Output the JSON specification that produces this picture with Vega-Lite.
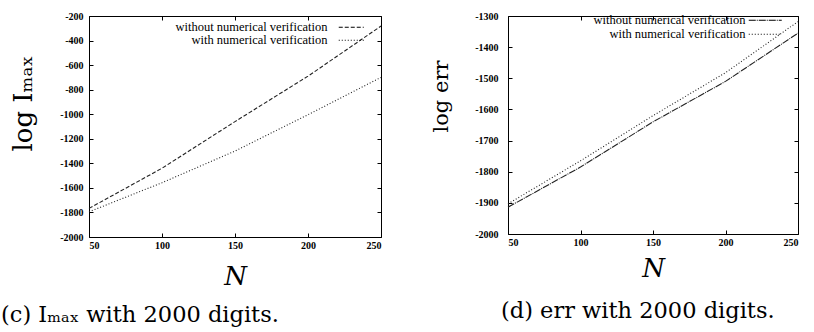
{
  "$schema": "https://vega.github.io/schema/vega-lite/v6.json",
  "padding": {"left": 0, "top": 10, "right": 5, "bottom": 0},
  "background": "white",
  "spacing": 46,
  "resolve": {"scale": {"strokeDash": "independent"}, "legend": {"strokeDash": "independent"}},
  "hconcat": [
    {
      "width": 292,
      "height": 221,
      "title": {"text": "(c) Iₘₐₓ with 2000 digits.", "orient": "bottom", "anchor": "start", "frame": "group", "dx": -88, "offset": 15, "font": "DejaVu Serif", "fontSize": 22.5, "fontWeight": "normal", "color": "#000"},
      "data": {"values": [
        {"N": 50, "v": -1767, "s": "without numerical verification"},
        {"N": 100, "v": -1440, "s": "without numerical verification"},
        {"N": 150, "v": -1060, "s": "without numerical verification"},
        {"N": 200, "v": -690, "s": "without numerical verification"},
        {"N": 250, "v": -282, "s": "without numerical verification"},
        {"N": 50, "v": -1795, "s": "with numerical verification"},
        {"N": 100, "v": -1558, "s": "with numerical verification"},
        {"N": 150, "v": -1300, "s": "with numerical verification"},
        {"N": 200, "v": -1004, "s": "with numerical verification"},
        {"N": 250, "v": -700, "s": "with numerical verification"}
      ]},
      "layer": [
        {
          "mark": {"type": "line", "color": "#222", "strokeWidth": 1.1},
          "encoding": {
            "x": {"field": "N", "type": "quantitative", "scale": {"domain": [50, 250], "nice": false},
                  "axis": {"values": [50, 100, 150, 200, 250], "title": "N", "titleFont": "DejaVu Serif", "titleFontStyle": "italic", "titleFontSize": 26, "titlePadding": 13}},
            "y": {"field": "v", "type": "quantitative", "scale": {"domain": [-2000, -200], "nice": false},
                  "axis": {"values": [-2000, -1800, -1600, -1400, -1200, -1000, -800, -600, -400, -200], "title": "log Iₘₐₓ", "titleFont": "DejaVu Serif", "titleFontSize": 26, "titleY": 87, "titlePadding": 23, "labelPadding": 10}},
            "strokeDash": {"field": "s", "type": "nominal",
                  "scale": {"domain": ["without numerical verification", "with numerical verification"], "range": [[4, 2], [1, 2]]},
                  "legend": {"title": null, "orient": "none", "legendX": 256, "legendY": 5, "symbolType": "M-2.5,0H2.5", "symbolSize": 100, "labelOffset": -30, "rowPadding": -2}}
          }
        },
        {
          "mark": {"type": "line", "opacity": 0},
          "encoding": {
            "x": {"field": "N", "type": "quantitative", "axis": {"orient": "top", "labels": false, "title": null, "values": [50, 100, 150, 200, 250]}},
            "y": {"field": "v", "type": "quantitative", "axis": {"orient": "right", "labels": false, "title": null, "values": [-2000, -1800, -1600, -1400, -1200, -1000, -800, -600, -400, -200]}}
          }
        }
      ],
      "resolve": {"axis": {"x": "independent", "y": "independent"}}
    },
    {
      "width": 290,
      "height": 218,
      "title": {"text": "(d) err with 2000 digits.", "orient": "bottom", "anchor": "start", "frame": "group", "dx": -7, "offset": 19, "font": "DejaVu Serif", "fontSize": 22.5, "fontWeight": "normal", "color": "#000"},
      "data": {"values": [
        {"N": 50, "v": -1914, "s": "without numerical verification"},
        {"N": 100, "v": -1785, "s": "without numerical verification"},
        {"N": 150, "v": -1640, "s": "without numerical verification"},
        {"N": 200, "v": -1510, "s": "without numerical verification"},
        {"N": 250, "v": -1355, "s": "without numerical verification"},
        {"N": 50, "v": -1903, "s": "with numerical verification"},
        {"N": 100, "v": -1765, "s": "with numerical verification"},
        {"N": 150, "v": -1620, "s": "with numerical verification"},
        {"N": 200, "v": -1482, "s": "with numerical verification"},
        {"N": 250, "v": -1318, "s": "with numerical verification"}
      ]},
      "layer": [
        {
          "mark": {"type": "line", "color": "#222", "strokeWidth": 1.1},
          "encoding": {
            "x": {"field": "N", "type": "quantitative", "scale": {"domain": [50, 250], "nice": false},
                  "axis": {"values": [50, 100, 150, 200, 250], "title": "N", "titleFont": "DejaVu Serif", "titleFontStyle": "italic", "titleFontSize": 26, "titlePadding": 8}},
            "y": {"field": "v", "type": "quantitative", "scale": {"domain": [-2000, -1300], "nice": false},
                  "axis": {"values": [-2000, -1900, -1800, -1700, -1600, -1500, -1400, -1300], "title": "log err", "titleFont": "DejaVu Serif", "titleFontSize": 21, "titleY": 80, "titlePadding": 23, "labelPadding": 14}},
            "strokeDash": {"field": "s", "type": "nominal",
                  "scale": {"domain": ["without numerical verification", "with numerical verification"], "range": [[7, 1, 1, 1], [1, 2]]},
                  "legend": {"title": null, "orient": "none", "legendX": 251, "legendY": -2, "symbolType": "M-3.3,0H3.3", "symbolSize": 100, "labelOffset": -26}}
          }
        },
        {
          "mark": {"type": "line", "opacity": 0},
          "encoding": {
            "x": {"field": "N", "type": "quantitative", "axis": {"orient": "top", "labels": false, "title": null, "values": [50, 100, 150, 200, 250]}},
            "y": {"field": "v", "type": "quantitative", "axis": {"orient": "right", "labels": false, "title": null, "values": [-2000, -1900, -1800, -1700, -1600, -1500, -1400, -1300]}}
          }
        }
      ],
      "resolve": {"axis": {"x": "independent", "y": "independent"}}
    }
  ],
  "config": {
    "view": {"stroke": "#000", "strokeWidth": 1},
    "axis": {"labelFont": "Liberation Serif", "labelFontSize": 10, "labelFontWeight": "bold", "labelColor": "#000", "tickColor": "#000", "tickSize": -4, "labelPadding": 7, "domain": false, "grid": false, "titleColor": "#000", "titleFontWeight": "normal", "labelExpr": "'' + datum.value"},
    "legend": {"symbolStrokeColor": "#000", "symbolStrokeWidth": 1, "labelFont": "Liberation Serif", "labelFontSize": 12.5, "labelColor": "#000", "labelAlign": "right", "rowPadding": 1}
  }
}
